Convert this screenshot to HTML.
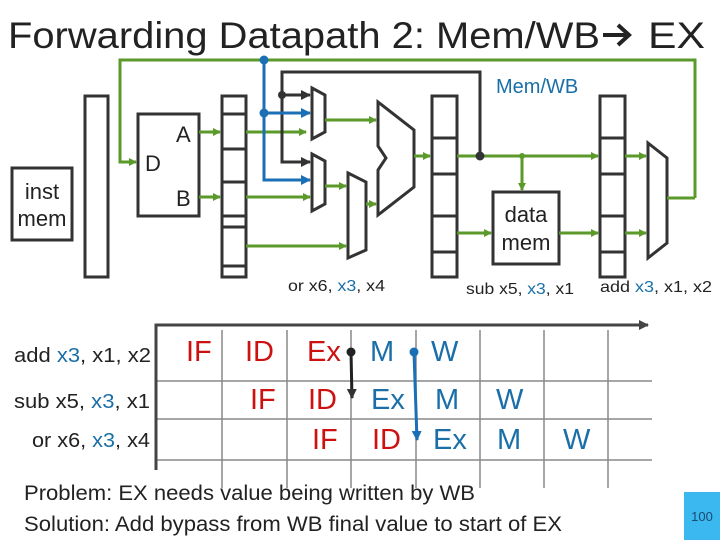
<!DOCTYPE html>
<html><head><meta charset="utf-8"><style>
html,body{margin:0;padding:0;background:#fff}
svg{display:block;font-family:"Liberation Sans",sans-serif}
</style></head><body>
<svg width="720" height="540" viewBox="0 0 720 540">
<defs>
<marker id="g" markerWidth="8" markerHeight="8" refX="7" refY="4" orient="auto" markerUnits="userSpaceOnUse"><path d="M0,0 L8,4 L0,8 Z" fill="#5b9a2a"/></marker>
<marker id="b" markerWidth="10" markerHeight="10" refX="9" refY="5" orient="auto" markerUnits="userSpaceOnUse"><path d="M0,0 L10,5 L0,10 Z" fill="#1a6fb5"/></marker>
<marker id="k" markerWidth="10" markerHeight="10" refX="9" refY="5" orient="auto" markerUnits="userSpaceOnUse"><path d="M0,0 L10,5 L0,10 Z" fill="#333"/></marker>
<marker id="ka" markerWidth="10" markerHeight="10" refX="9" refY="5" orient="auto" markerUnits="userSpaceOnUse"><path d="M0,0 L10,5 L0,10 Z" fill="#444"/></marker>
</defs>
<text x="8" y="48" font-size="37" fill="#222" textLength="592" lengthAdjust="spacingAndGlyphs">Forwarding Datapath 2: Mem/WB</text>
<path d="M603,35H628M618,25L629,35L618,45" fill="none" stroke="#222" stroke-width="4"/>
<text x="648" y="48" font-size="37" fill="#222" textLength="57" lengthAdjust="spacingAndGlyphs">EX</text>

<g fill="none" stroke="#333" stroke-width="3">
<rect x="12" y="168" width="60" height="72"/>
<rect x="85" y="96" width="23" height="181"/>
<rect x="138" y="114" width="61" height="102"/>
<rect x="222" y="96" width="24" height="181"/>
<path d="M222,114H246M222,149H246M222,182H246M222,216H246M222,227H246M222,266H246"/>
<rect x="432" y="96" width="25" height="181"/>
<path d="M432,138H457M432,174H457M432,216H457M432,252H457"/>
<rect x="600" y="96" width="25" height="181"/>
<path d="M600,138H625M600,174H625M600,216H625M600,252H625"/>
<rect x="493" y="192" width="66" height="72"/>
<path d="M312,88L325,95L325,132L312,139Z"/>
<path d="M312,154L325,161L325,204L312,211Z"/>
<path d="M348,173L366,182L366,250L348,258Z"/>
<path d="M378,102L414,130L414,187L378,215L378,170L386,158L378,146Z"/>
<path d="M648,143L667,158L667,243L648,258Z"/>
</g>
<g font-size="22" fill="#222">
<text x="42" y="199" text-anchor="middle">inst</text>
<text x="42" y="226" text-anchor="middle">mem</text>
<text x="145" y="171">D</text>
<text x="176" y="142">A</text>
<text x="176" y="206">B</text>
<text x="526" y="222" text-anchor="middle">data</text>
<text x="526" y="250" text-anchor="middle">mem</text>
</g>
<text x="496" y="93" font-size="20" fill="#1a6fa8">Mem/WB</text>

<g fill="none" stroke="#5b9a2a" stroke-width="3">
<path d="M695,198H667"/>
<path d="M695,198V60H120V162H136" marker-end="url(#g)"/>
<path d="M199,132H220" marker-end="url(#g)"/>
<path d="M199,197H220" marker-end="url(#g)"/>
<path d="M246,132H306" marker-end="url(#g)"/>
<path d="M246,197H310" marker-end="url(#g)"/>
<path d="M246,246H346" marker-end="url(#g)"/>
<path d="M325,120H376" marker-end="url(#g)"/>
<path d="M325,186H346" marker-end="url(#g)"/>
<path d="M366,204H376" marker-end="url(#g)"/>
<path d="M414,156H430" marker-end="url(#g)"/>
<path d="M457,156H598" marker-end="url(#g)"/>
<path d="M522,156V190" marker-end="url(#g)"/>
<path d="M457,233H491" marker-end="url(#g)"/>
<path d="M559,233H598" marker-end="url(#g)"/>
<path d="M625,156H646" marker-end="url(#g)"/>
<path d="M625,233H646" marker-end="url(#g)"/>
</g>
<circle cx="522" cy="156" r="3" fill="#5b9a2a"/>
<g fill="none" stroke="#333" stroke-width="3">
<path d="M480,156V72H282V162H310" marker-end="url(#k)"/>
<path d="M282,95H310" marker-end="url(#k)"/>
</g>
<circle cx="480" cy="156" r="4.5" fill="#333"/>
<circle cx="282" cy="95" r="4" fill="#333"/>
<g fill="none" stroke="#1a6fb5" stroke-width="3">
<path d="M264,60V180H310" marker-end="url(#b)"/>
<path d="M264,113H310" marker-end="url(#b)"/>
</g>
<circle cx="264" cy="60" r="4.5" fill="#1a6fb5"/>
<circle cx="264" cy="113" r="4.5" fill="#1a6fb5"/>

<g font-size="16" fill="#222">
<text x="288" y="291" textLength="97" lengthAdjust="spacingAndGlyphs">or x6, <tspan fill="#1a6fa8">x3</tspan>, x4</text>
<text x="466" y="294" textLength="108" lengthAdjust="spacingAndGlyphs">sub x5, <tspan fill="#1a6fa8">x3</tspan>, x1</text>
<text x="600" y="292" textLength="112" lengthAdjust="spacingAndGlyphs">add <tspan fill="#1a6fa8">x3</tspan>, x1, x2</text>
</g>

<g stroke="#888" stroke-width="1.5" fill="none">
<path d="M222,330V488M287,330V488M351,330V488M416,330V488M480,330V488M544,330V488M608,330V488"/>
<path d="M156,381H652M156,419H652M156,460H652"/>
</g>
<path d="M156,470V325H648" fill="none" stroke="#444" stroke-width="3" marker-end="url(#ka)"/>

<g font-size="20" fill="#222">
<text x="14" y="362" textLength="137" lengthAdjust="spacingAndGlyphs">add <tspan fill="#1a6fa8">x3</tspan>, x1, x2</text>
<text x="14" y="408" textLength="136" lengthAdjust="spacingAndGlyphs">sub x5, <tspan fill="#1a6fa8">x3</tspan>, x1</text>
<text x="32" y="447" textLength="118" lengthAdjust="spacingAndGlyphs">or x6, <tspan fill="#1a6fa8">x3</tspan>, x4</text>
</g>
<g font-size="29">
<text x="186" y="361" fill="#cc1111">IF</text>
<text x="245" y="361" fill="#cc1111">ID</text>
<text x="307" y="361" fill="#cc1111">Ex</text>
<text x="370" y="361" fill="#1a6fa8">M</text>
<text x="431" y="361" fill="#1a6fa8">W</text>
<text x="250" y="409" fill="#cc1111">IF</text>
<text x="308" y="409" fill="#cc1111">ID</text>
<text x="371" y="409" fill="#1a6fa8">Ex</text>
<text x="435" y="409" fill="#1a6fa8">M</text>
<text x="496" y="409" fill="#1a6fa8">W</text>
<text x="312" y="449" fill="#cc1111">IF</text>
<text x="372" y="449" fill="#cc1111">ID</text>
<text x="433" y="449" fill="#1a6fa8">Ex</text>
<text x="497" y="449" fill="#1a6fa8">M</text>
<text x="563" y="449" fill="#1a6fa8">W</text>
</g>
<path d="M351,352L352,398" stroke="#222" stroke-width="3" fill="none" marker-end="url(#k)"/>
<circle cx="351" cy="352" r="4.5" fill="#222"/>
<path d="M414,352L417,440" stroke="#1a6fb5" stroke-width="3" fill="none" marker-end="url(#b)"/>
<circle cx="414" cy="352" r="4.5" fill="#1a6fb5"/>

<g font-size="21" fill="#222">
<text x="24" y="500" textLength="451" lengthAdjust="spacingAndGlyphs">Problem: EX needs value being written by WB</text>
<text x="24" y="531" textLength="538" lengthAdjust="spacingAndGlyphs">Solution: Add bypass from WB final value to start of EX</text>
</g>
<rect x="684" y="492" width="36" height="48" fill="#3bb8ef"/>
<text x="702" y="521" font-size="13" fill="#1a4a70" text-anchor="middle">100</text>
</svg>
</body></html>
